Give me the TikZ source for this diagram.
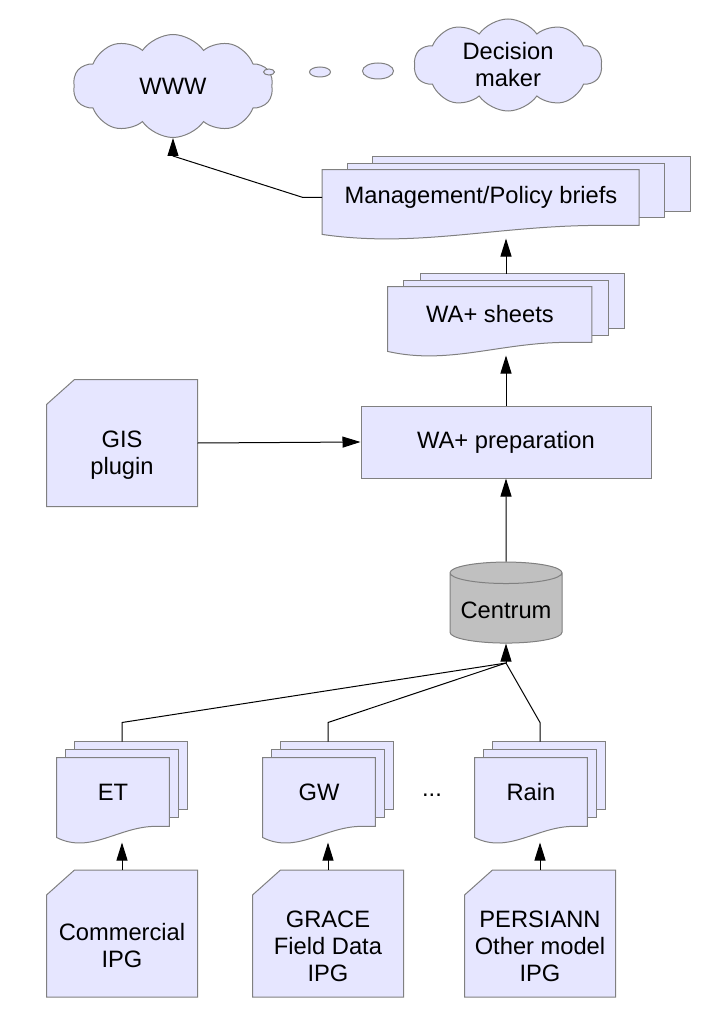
\documentclass[tikz,border=0pt]{standalone}
\usepackage{fontspec}
\setmainfont{Liberation Sans}
\usetikzlibrary{shapes.symbols,shapes.geometric,arrows.meta,backgrounds,calc}

\definecolor{pagefill}{HTML}{E6E6FF}
\definecolor{pageline}{HTML}{808080}
\definecolor{dbfill}{HTML}{C0C0C0}

\tikzset{
  outline/.style={draw=pageline, fill=pagefill, line width=1pt},
  cloudbox/.style={outline, cloud, cloud puffs=10, cloud puff arc=110, cloud ignores aspect,
    align=center, inner sep=0pt},
  bubble/.style={outline, ellipse, inner sep=0pt},
  card/.style={minimum width=150pt, minimum height=126pt, inner sep=0pt},
  cardtext/.style={align=center, yshift=-12.5pt},
  stack/.style={minimum width=130pt, minimum height=100pt, inner sep=0pt},
  task/.style={outline, rectangle, minimum width=290pt, minimum height=72pt},
  store/.style={draw=pageline, fill=dbfill, line width=1pt, cylinder, shape border rotate=90,
    aspect=0.22, minimum width=112pt, minimum height=81pt,
    cylinder uses custom fill, cylinder body fill=dbfill, cylinder end fill=dbfill},
}

% three pages with a wavy front page, drawn round a node
\newcommand\docstack[1]{%
  \path[outline] let \p1=(#1.north west), \p2=(#1.south east),
    \n1={0.069*(\x2-\x1)}, \n2={\y1-\y2} in
    (\x1+2*\n1,\y1) rectangle (\x2,\y1-0.67*\n2);
  \path[outline] let \p1=(#1.north west), \p2=(#1.south east),
    \n1={0.069*(\x2-\x1)}, \n2={\y1-\y2} in
    (\x1+\n1,\y1-0.08*\n2) rectangle (\x2-\n1,\y1-0.75*\n2);
  \path[outline] let \p1=(#1.north west), \p2=(#1.south east),
    \n1={0.069*(\x2-\x1)}, \n2={\y1-\y2}, \n3={\x2-\x1-2*\n1} in
    (\x1,\y1-0.16*\n2) -- (\x2-2*\n1,\y1-0.16*\n2) -- (\x2-2*\n1,\y1-0.84*\n2)
    -- (\x1+0.88*\n3,\y1-0.84*\n2)
    .. controls (\x1+0.55*\n3,\y1-0.84*\n2) and (\x1+0.3*\n3,\y1-1.12*\n2) .. (\x1,\y1-0.95*\n2)
    -- cycle;
}
% card with its top left corner cut off
\newcommand\cardshape[1]{%
  \path[outline] (#1.south west) -- ([yshift=-25pt]#1.north west) -- ([xshift=28pt]#1.north west)
    -- (#1.north east) -- (#1.south east) -- cycle;
}

\begin{document}
\begin{tikzpicture}[x=1pt, y=-1pt, line width=1pt,
    font=\fontsize{23.7}{27}\selectfont,
    >={Triangle[length=18pt,width=11pt]}]
    \useasboundingbox (0,0) rectangle (710,1016);

    \node[cloudbox, minimum width=200pt, minimum height=103pt] (WWW) at (173,86) {WWW};
    \node[cloudbox, minimum width=188pt, minimum height=92pt] (DM) at (508,65) {Decision\\maker};
    \node[bubble, minimum width=11pt, minimum height=6pt] (b1) at (269,72) {};
    \node[bubble, minimum width=21pt, minimum height=10pt] (b2) at (320,72) {};
    \node[bubble, minimum width=31pt, minimum height=16pt] (b3) at (378,71) {};

    \node[stack, minimum width=367pt, minimum height=81pt,
      label={[xshift=-25pt]center:Management/Policy briefs}] (briefs) at (506,197.5) {};
    \node[stack, minimum width=236pt, minimum height=81pt,
      label={[xshift=-16pt]center:WA+ sheets}] (sheets) at (506,314.5) {};
    \node[task] (prep) at (506,442) {WA+ preparation};
    \node[card, label={[cardtext]center:GIS\\plugin}] (GIS) at (122,443) {};
    \node[store] (centrum) at (506,610) {Centrum};
    \coordinate (hub) at (506,663);

    \node[stack, label={[xshift=-9pt]center:ET}] (ET) at (122,792) {};
    \node[stack, label={[xshift=-9pt]center:GW}] (GW) at (328,792) {};
    \node[stack, label={[xshift=-9pt]center:Rain}] (rain) at (540,792) {};
    \node[anchor=base] (dots) at (432,796) {...};

    \node[card, label={[cardtext]center:Commercial\\IPG}] (commercial) at (122,933.5) {};
    \node[card, label={[cardtext]center:GRACE\\Field Data\\IPG}] (grace) at (328,933.5) {};
    \node[card, label={[cardtext]center:PERSIANN\\Other model\\IPG}] (persiann) at (540,933.5) {};

    \begin{scope}[on background layer]
        \docstack{briefs}
        \docstack{sheets}
        \docstack{ET}
        \docstack{GW}
        \docstack{rain}
        \cardshape{GIS}
        \cardshape{commercial}
        \cardshape{grace}
        \cardshape{persiann}
    \end{scope}

    \draw [->] (briefs.west) -- ++(-19,0) -- ([yshift=-18pt]WWW.south) -- (WWW.south);
    \draw [->] (sheets.north) -- (briefs.south);
    \draw [->] (prep.north) -- (sheets.south);
    \draw [->] (GIS.east) -- (prep.west);
    \draw [->] (centrum.north) -- (prep.south);

    \draw (ET.north) -- ++(0,-19) -- (hub);
    \draw (GW.north) -- ++(0,-19) -- (hub);
    \draw (rain.north) -- ++(0,-19) -- (hub);
    \draw [->] (hub) -- (centrum.south);

    \draw [->] (commercial.north) -- (ET.south);
    \draw [->] (grace.north) -- (GW.south);
    \draw [->] (persiann.north) -- (rain.south);
\end{tikzpicture}
\end{document}
